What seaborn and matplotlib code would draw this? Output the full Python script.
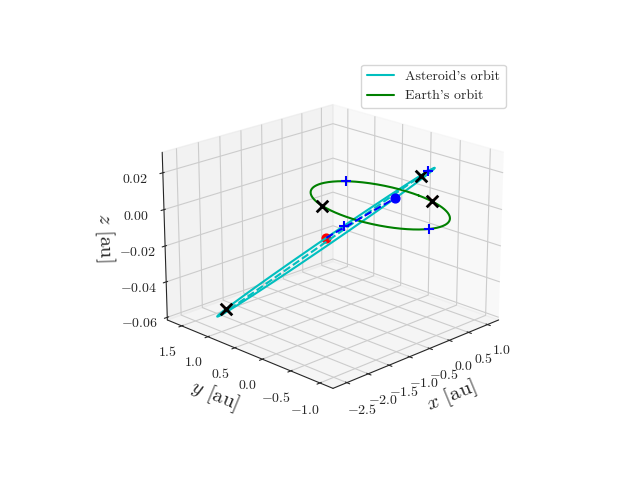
import numpy as np
import matplotlib
matplotlib.use("Agg")
import matplotlib.pyplot as plt
import seaborn as sns

sns.set_style("white")
plt.rcParams.update({
    "font.family": "serif",
    "font.serif": ["cmr10"],
    "mathtext.fontset": "cm",
    "axes.formatter.use_mathtext": True,
})

# asteroid orbit (estimated): semi-major axis, eccentricity, periapsis angle,
# small plane tilt along the major and minor directions
AST_A = 1.62
AST_E = 0.55
AST_PERI_DEG = -30.0
AST_TILT_MAJOR = 0.023
AST_TILT_MINOR = -0.022
EARTH_R = 1.0
EARTH_TILT_X = -0.0022
EARTH_TILT_Y = 0.0022

# true anomalies of markers on the asteroid orbit
AST_BLACK_X_NU = [157.0, 12.0]
AST_RED_X_NU = [157.0]
AST_PLUS_NU = [-4.0, 92.0]
AST_BLUE_DOT_NU = [-106.0]
AST_RED_DOT_NU = [103.0]
# polar angles of markers on Earth's orbit
EARTH_BLACK_X_DEG = [160.0, -15.0]
EARTH_RED_X_DEG = [-15.0]
EARTH_PLUS_DEG = [65.0, 258.0]


def ast_pos(nu_deg):
    nu = np.radians(np.asarray(nu_deg, dtype=float))
    p = AST_A * (1 - AST_E ** 2)
    r = p / (1 + AST_E * np.cos(nu))
    u, w = r * np.cos(nu), r * np.sin(nu)
    phi = np.radians(AST_PERI_DEG)
    x = u * np.cos(phi) - w * np.sin(phi)
    y = u * np.sin(phi) + w * np.cos(phi)
    z = AST_TILT_MAJOR * u + AST_TILT_MINOR * w
    return x, y, z


def earth_pos(deg):
    t = np.radians(np.asarray(deg, dtype=float))
    x, y = EARTH_R * np.cos(t), EARTH_R * np.sin(t)
    return x, y, EARTH_TILT_X * x + EARTH_TILT_Y * y


fig = plt.figure(figsize=(6.4, 4.8), dpi=100)
ax = fig.add_subplot(projection="3d")
ax.view_init(elev=20, azim=-135)

nu = np.linspace(0, 360, 400)
ax.plot(*ast_pos(nu), color="c", label="Asteroid's orbit")
ax.plot(*earth_pos(nu), color="g", label="Earth's orbit")

# major axis (dashed cyan) and blue dashed chord
ax.plot(*ast_pos([0.0, 180.0]), color="c", ls="--")
chord = np.concatenate([AST_RED_DOT_NU, AST_BLUE_DOT_NU])
ax.plot(*ast_pos(chord), color="b", ls="--")

plus_kw = dict(color="b", marker="+", s=60, depthshade=False)
ax.scatter(*earth_pos(EARTH_PLUS_DEG), **plus_kw)
ax.scatter(*ast_pos(AST_PLUS_NU), **plus_kw)
red_kw = dict(color="r", marker="x", s=50, depthshade=False)
ax.scatter(*ast_pos(AST_RED_X_NU), **red_kw)
ax.scatter(*earth_pos(EARTH_RED_X_DEG), **red_kw)
black_kw = dict(color="k", marker="x", s=70, linewidths=2, depthshade=False)
ax.scatter(*ast_pos(AST_BLACK_X_NU), **black_kw)
ax.scatter(*earth_pos(EARTH_BLACK_X_DEG), **black_kw)
ax.scatter(*ast_pos(AST_BLUE_DOT_NU), color="b", s=40, depthshade=False)
ax.scatter(*ast_pos(AST_RED_DOT_NU), color="r", s=40, depthshade=False)

ax.set_xlim(-2.82, 1.3)
ax.set_ylim(-1.22, 1.78)
ax.set_zlim(-0.0615, 0.031)
ax.set_xticks(np.arange(-2.5, 1.01, 0.5))
ax.set_yticks(np.arange(-1.0, 1.51, 0.5))
ax.set_zticks([-0.06, -0.04, -0.02, 0.0, 0.02])
ax.set_xlabel(r"$x$ [au]", fontsize=15)
ax.set_ylabel(r"$y$ [au]", fontsize=15)
ax.set_zlabel(r"$z$ [au]", fontsize=15)
ax.legend(loc="upper right")

fig.savefig("out.png")
